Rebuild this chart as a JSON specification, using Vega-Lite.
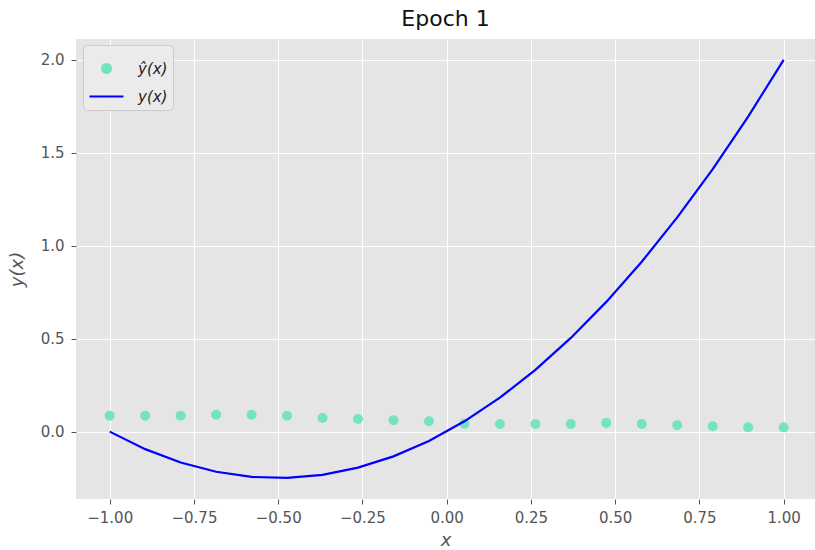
{
  "$schema": "https://vega.github.io/schema/vega-lite/v6.json",
  "width": 739,
  "height": 460,
  "autosize": "none",
  "padding": {"left": 76, "top": 39, "right": 0, "bottom": 51},
  "background": "white",
  "title": {
    "text": "Epoch 1",
    "font": "DejaVu Sans",
    "fontSize": 22,
    "fontWeight": "normal",
    "color": "#111111",
    "anchor": "middle",
    "offset": 8
  },
  "datasets": {
    "predicted": [
      {"x": -1.0, "y": 0.086, "series": "ŷ(x)"},
      {"x": -0.8947, "y": 0.086, "series": "ŷ(x)"},
      {"x": -0.7895, "y": 0.086, "series": "ŷ(x)"},
      {"x": -0.6842, "y": 0.091, "series": "ŷ(x)"},
      {"x": -0.5789, "y": 0.091, "series": "ŷ(x)"},
      {"x": -0.4737, "y": 0.086, "series": "ŷ(x)"},
      {"x": -0.3684, "y": 0.073, "series": "ŷ(x)"},
      {"x": -0.2632, "y": 0.068, "series": "ŷ(x)"},
      {"x": -0.1579, "y": 0.061, "series": "ŷ(x)"},
      {"x": -0.0526, "y": 0.056, "series": "ŷ(x)"},
      {"x": 0.0526, "y": 0.042, "series": "ŷ(x)"},
      {"x": 0.1579, "y": 0.041, "series": "ŷ(x)"},
      {"x": 0.2632, "y": 0.041, "series": "ŷ(x)"},
      {"x": 0.3684, "y": 0.041, "series": "ŷ(x)"},
      {"x": 0.4737, "y": 0.047, "series": "ŷ(x)"},
      {"x": 0.5789, "y": 0.041, "series": "ŷ(x)"},
      {"x": 0.6842, "y": 0.034, "series": "ŷ(x)"},
      {"x": 0.7895, "y": 0.029, "series": "ŷ(x)"},
      {"x": 0.8947, "y": 0.023, "series": "ŷ(x)"},
      {"x": 1.0, "y": 0.023, "series": "ŷ(x)"}
    ],
    "target": [
      {"x": -1.0, "y": 0.0, "series": "y(x)"},
      {"x": -0.8947, "y": -0.0942, "series": "y(x)"},
      {"x": -0.7895, "y": -0.1662, "series": "y(x)"},
      {"x": -0.6842, "y": -0.2161, "series": "y(x)"},
      {"x": -0.5789, "y": -0.2438, "series": "y(x)"},
      {"x": -0.4737, "y": -0.2493, "series": "y(x)"},
      {"x": -0.3684, "y": -0.2327, "series": "y(x)"},
      {"x": -0.2632, "y": -0.1939, "series": "y(x)"},
      {"x": -0.1579, "y": -0.1330, "series": "y(x)"},
      {"x": -0.0526, "y": -0.0499, "series": "y(x)"},
      {"x": 0.0526, "y": 0.0554, "series": "y(x)"},
      {"x": 0.1579, "y": 0.1828, "series": "y(x)"},
      {"x": 0.2632, "y": 0.3324, "series": "y(x)"},
      {"x": 0.3684, "y": 0.5042, "series": "y(x)"},
      {"x": 0.4737, "y": 0.6981, "series": "y(x)"},
      {"x": 0.5789, "y": 0.9141, "series": "y(x)"},
      {"x": 0.6842, "y": 1.1524, "series": "y(x)"},
      {"x": 0.7895, "y": 1.4127, "series": "y(x)"},
      {"x": 0.8947, "y": 1.6953, "series": "y(x)"},
      {"x": 1.0, "y": 2.0, "series": "y(x)"}
    ]
  },
  "encoding": {
    "x": {
      "field": "x",
      "type": "quantitative",
      "scale": {"domain": [-1.1, 1.093], "nice": false, "zero": false},
      "axis": {
        "title": "x",
        "values": [-1, -0.75, -0.5, -0.25, 0, 0.25, 0.5, 0.75, 1],
        "format": ".2f",
        "titleFontStyle": "italic",
        "labelPadding": 6,
        "titlePadding": 6
      }
    },
    "y": {
      "field": "y",
      "type": "quantitative",
      "scale": {"domain": [-0.3625, 2.1125], "nice": false, "zero": false},
      "axis": {
        "title": "y(x)",
        "values": [0, 0.5, 1, 1.5, 2],
        "format": ".1f",
        "titleFontStyle": "italic",
        "labelPadding": 7,
        "titlePadding": 14
      }
    },
    "color": {
      "field": "series",
      "type": "nominal",
      "scale": {"domain": ["ŷ(x)", "y(x)"], "range": ["#74E3BF", "#0000FF"]},
      "legend": {
        "title": null,
        "orient": "none",
        "legendX": 7,
        "legendY": 6,
        "fillColor": "#EBEBEB",
        "strokeColor": "#CCCCCC",
        "cornerRadius": 4,
        "padding": 5,
        "symbolSize": 1156,
        "symbolOffset": 0,
        "labelOffset": 13,
        "rowPadding": 0,
        "encode": {
          "symbols": {
            "update": {
              "shape": {"signal": "datum.value === 'y(x)' ? 'stroke' : 'M-0.26,0A0.26,0.26,0,1,1,0.26,0A0.26,0.26,0,1,1,-0.26,0Z'"},
              "stroke": {"signal": "datum.value === 'y(x)' ? '#0000FF' : '#74E3BF'"},
              "strokeWidth": {"value": 2.2},
              "opacity": {"value": 1}
            }
          }
        }
      }
    }
  },
  "layer": [
    {
      "data": {"name": "predicted"},
      "mark": {"type": "point", "filled": true, "size": 100, "opacity": 1}
    },
    {
      "data": {"name": "target"},
      "mark": {"type": "line", "strokeWidth": 2.2}
    }
  ],
  "config": {
    "view": {"fill": "#E5E5E5", "stroke": null},
    "axis": {
      "domain": false,
      "grid": true,
      "gridColor": "#FFFFFF",
      "gridWidth": 1,
      "tickColor": "#555555",
      "tickSize": 5,
      "tickWidth": 1,
      "labelColor": "#555555",
      "labelFont": "DejaVu Sans",
      "labelFontSize": 15,
      "titleColor": "#555555",
      "titleFont": "DejaVu Sans",
      "titleFontSize": 18,
      "titleFontWeight": "normal"
    },
    "legend": {
      "labelFont": "DejaVu Sans",
      "labelFontSize": 15,
      "labelFontStyle": "italic",
      "labelColor": "#222222"
    }
  }
}
